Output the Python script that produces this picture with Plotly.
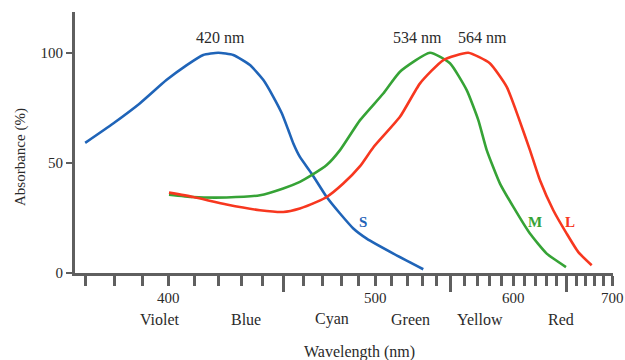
import plotly.graph_objects as go

# ---- data (wavelength nm, absorbance %) ----
s_wl = [370, 379.5, 389, 399, 407, 413.7, 420, 426.5, 434, 440.2, 444.9, 449, 452.2, 454.7, 458, 464, 472, 479.3, 486.8, 494.6, 510.9, 530.5]
s_ab = [59.1, 67.9, 77, 87.6, 94.4, 99, 100, 99, 94.4, 87.6, 80, 72.5, 64.9, 58.8, 52.7, 45.2, 34.5, 27, 20.2, 15.6, 8.8, 1.7]

m_wl = [400, 409.6, 423.6, 438.6, 449.7, 458, 464, 472, 479.3, 490.7, 504.6, 515.1, 535.1, 549.3, 561.8, 570.8, 577.5, 588.4, 599.8, 614.6, 630.3, 649.4]
m_ab = [35.6, 34.5, 34.3, 35.3, 38.4, 41.4, 44.4, 49, 55.8, 69.4, 81.5, 91.4, 100, 95.2, 83, 69.4, 55.8, 40.6, 30, 17.9, 8.8, 2.7]

l_wl = [400, 409.6, 423.6, 438.6, 449.7, 458, 466.7, 472, 481.1, 490.7, 498.5, 515.1, 528.3, 544.5, 563, 580, 594.1, 604.1, 614.6, 623.9, 636.7, 650.1, 662.2, 676.7]
l_ab = [36.5, 34.5, 31.1, 28.5, 27.7, 29.3, 32.3, 34.5, 40.6, 48.5, 57, 70.9, 86.1, 96.7, 100, 95.2, 84.5, 70.9, 55.8, 42.1, 28.5, 17.9, 9.5, 3.5]

minor_ticks_nm = list(range(370, 701, 10))
long_ticks_nm = [450, 550, 650]
labelled_nm = [400, 500, 600, 700]

color_names = ["Violet", "Blue", "Cyan", "Green", "Yellow", "Red"]
color_name_nm = [396.5, 432, 474.9, 522, 572, 644]

peak_labels = ["420 nm", "534 nm", "564 nm"]
peak_label_nm = [420.8, 526.9, 574.5]

curve_labels = ["S", "M", "L"]
curve_label_nm = [492.4, 619, 653.5]
curve_label_y = [23, 23, 23]

y_ticks = [0, 50, 100]

# ---- reciprocal (wavenumber) scale ----
def wn(l):
    return 1e7 / l

BLUE = "#1f64b8"
GREEN = "#36a336"
RED = "#f7371f"
AXIS = "#5f5f5f"
TXT = "#2a2a2a"
FONT = "Liberation Serif"

fig = go.Figure()
for wl, ab, col in [(s_wl, s_ab, BLUE), (m_wl, m_ab, GREEN), (l_wl, l_ab, RED)]:
    fig.add_trace(go.Scatter(x=[wn(v) for v in wl], y=ab, mode="lines",
                             line=dict(color=col, width=2.6, shape="spline", smoothing=0.5),
                             showlegend=False, hoverinfo="skip"))
# invisible trace on overlay axis
fig.add_trace(go.Scatter(x=[wn(450)], y=[0], xaxis="x2", mode="markers",
                         marker=dict(opacity=0), showlegend=False, hoverinfo="skip"))

# body margin removed via post_script: plot area spans x 75..613, y 12..273
W, H = 625, 360
X0, X1, Y0, Y1 = 75, 613, 12, 273
xr = [27273, 14262]
fig.update_layout(
    width=W, height=H,
    margin=dict(l=X0, r=W - X1, t=Y0, b=H - Y1),
    paper_bgcolor="white", plot_bgcolor="white",
    font=dict(family=FONT, color=TXT, size=15),
    xaxis=dict(range=xr, showgrid=False, zeroline=False, automargin=False,
               showline=True, linecolor=AXIS, linewidth=3,
               ticks="outside", ticklen=10, tickwidth=2.5, tickcolor=AXIS,
               tickvals=[wn(v) for v in minor_ticks_nm], showticklabels=False),
    xaxis2=dict(range=xr, overlaying="x", anchor="y", side="bottom", automargin=False,
                showgrid=False, zeroline=False, showline=False,
                ticks="outside", ticklen=18, tickwidth=2.5, tickcolor=AXIS,
                tickvals=[wn(v) for v in long_ticks_nm], showticklabels=False),
    yaxis=dict(range=[0, 118.5], showgrid=False, zeroline=False, automargin=False,
               showline=True, linecolor=AXIS, linewidth=3,
               ticks="outside", ticklen=6, tickwidth=2, tickcolor=AXIS,
               tickvals=y_ticks, tickfont=dict(family=FONT, size=15, color=TXT)),
)

def py(Y):
    return (Y1 - Y) / (Y1 - Y0)

def px(X):
    return (X - X0) / (X1 - X0)

C = dict(xanchor="center", yanchor="middle", showarrow=False)
for v in labelled_nm:
    fig.add_annotation(x=wn(v), y=py(298), xref="x", yref="paper", text=str(v),
                       font=dict(size=15, color=TXT), **C)
for name, nm in zip(color_names, color_name_nm):
    fig.add_annotation(x=wn(nm), y=py(319), xref="x", yref="paper", text=name,
                       font=dict(size=16, color=TXT), **C)
for t, nm in zip(peak_labels, peak_label_nm):
    fig.add_annotation(x=wn(nm), y=107, xref="x", yref="y", text=t,
                       font=dict(size=16, color=TXT), **C)
for t, nm, yy, col in zip(curve_labels, curve_label_nm, curve_label_y, [BLUE, GREEN, RED]):
    fig.add_annotation(x=wn(nm), y=yy, xref="x", yref="y", text="<b>" + t + "</b>",
                       font=dict(size=15, color=col), **C)
fig.add_annotation(x=px(359.5), y=py(352), xref="paper", yref="paper",
                   text="Wavelength (nm)", font=dict(size=16, color=TXT), **C)
fig.add_annotation(x=px(20), y=py(157), xref="paper", yref="paper",
                   text="Absorbance (%)", textangle=-90,
                   font=dict(size=15, color=TXT), **C)

fig.write_html("out.html", config={"displayModeBar": False},
               post_script="document.body.style.margin='0px';document.body.style.overflow='hidden';")
